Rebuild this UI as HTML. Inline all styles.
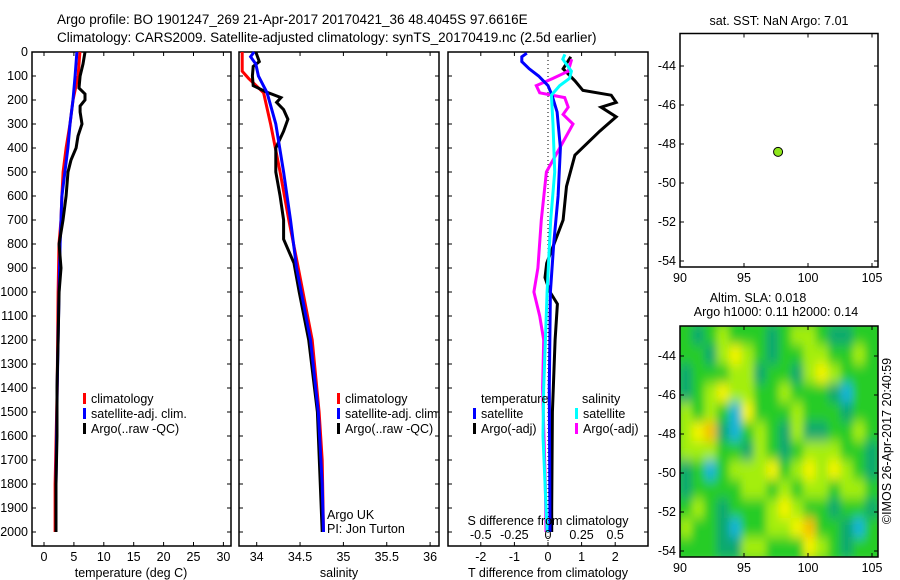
<!DOCTYPE html>
<html><head><meta charset="utf-8"><style>
body{margin:0;background:#fff;}
svg{display:block;font-family:"Liberation Sans",sans-serif;}
text{font-size:12.5px;fill:#000;}
</style></head><body>
<svg id="c" width="900" height="580" viewBox="0 0 900 580">
<text x="57" y="24" style="font-size:13.5px">Argo profile: BO 1901247_269 21-Apr-2017 20170421_36 48.4045S 97.6616E</text>
<text x="57" y="42" style="font-size:13.5px">Climatology: CARS2009. Satellite-adjusted climatology: synTS_20170419.nc (2.5d earlier)</text>
<g id="g"></g>
</svg>
<script>
// ---- data ----
const tDepth=[0,50,100,150,175,200,225,250,300,350,400,450,500,600,700,800,900,1000,1200,1400,1600,1800,2000];
const tArgo=[6.86,6.53,6.03,5.86,6.86,6.86,6.03,6.03,6.36,5.69,5.36,4.52,4.02,3.69,3.18,2.52,2.85,2.52,2.35,2.18,2.18,2.01,2.01];
const cDepth=[0,100,200,300,400,500,600,700,800,1000,1400,1800,2000];
const tClim=[6.0,5.7,4.85,4.35,3.7,3.2,3.0,2.85,2.5,2.35,2.2,1.85,1.85];
const tSat=[5.5,5.2,4.85,4.35,4.0,3.5,3.0,2.85,2.7,2.5,2.2,2.0,2.0];
const sClimDepth=[0,80,110,170,300,500,700,900,1200,1500,1700,2000];
const sClim=[33.833,33.833,33.906,34.08,34.16,34.27,34.37,34.48,34.64,34.72,34.755,34.77];
const sSatDepth=[0,20,50,100,170,300,500,700,900,1200,1500,1800,2000];
const sSat=[33.97,33.93,33.99,34.02,34.12,34.22,34.31,34.39,34.46,34.62,34.71,34.755,34.77];
const sArgoDepth=[0,40,60,100,140,165,190,210,240,280,330,400,500,600,700,780,880,1000,1200,1500,2000];
const sArgo=[33.99,34.03,33.96,33.95,33.96,34.10,34.28,34.23,34.31,34.36,34.31,34.22,34.22,34.27,34.31,34.31,34.43,34.49,34.60,34.70,34.755];
const dtSatDepth=[5,20,40,70,100,140,180,250,400,600,800,1000,1400,2000];
const dtSat=[-0.63,-0.78,-0.78,-0.56,-0.28,0,0.12,0.27,0.37,0.30,0.17,0.07,0.04,0.06];
const dtArgoDepth=[20,70,120,160,180,210,230,270,330,430,560,700,880,940,1000,1050,1200,1500,1900,2000];
const dtArgo=[0.68,0.45,0.8,1.04,1.88,2.03,1.58,2.03,1.54,0.8,0.55,0.45,-0.04,-0.09,0.06,0.28,0.21,0.13,0.11,0.11];
const dsSatDepth=[10,30,80,110,140,180,300,500,700,1000,1400,1600,2000];
const dsSat=[0.126,0.11,0.174,0.161,0.087,0.025,0.037,0.05,0.02,-0.007,-0.032,-0.037,-0.007];
const dsArgoDepth=[30,80,110,140,170,190,230,260,300,400,500,700,900,1000,1100,1200,1400,1800,2000];
const dsArgo=[0.176,0.15,0.037,-0.087,-0.062,0.124,0.15,0.112,0.186,0.087,-0.012,-0.05,-0.075,-0.105,-0.062,-0.032,-0.04,-0.02,-0.015];
const depthTicks=[0,100,200,300,400,500,600,700,800,900,1000,1100,1200,1300,1400,1500,1600,1700,1800,1900,2000];
const tTicks=[0,5,10,15,20,25,30];
const sTicks=[34,34.5,35,35.5,36];
const dtTicks=[-2,-1,0,1,2];
const dsTicks=[-0.5,-0.25,0,0.25,0.5];
const dsTickLabels=['-0.5','-0.25','0','0.25','0.5'];
const lonTicks=[90,95,100,105];
const latTicks=[-44,-46,-48,-50,-52,-54];
const argoLon=97.6616, argoLat=-48.4045;
const slaGrid=[
[2,1,2,3,2,2,2,1,2,3,3,2,1,1,2,2],
[2,2,1,3,4,3,2,1,2,2,3,3,2,2,3,2],
[1,2,2,2,3,3,1,2,2,1,3,4,3,2,2,2],
[1,2,3,4,3,3,2,2,3,2,2,2,1,0,2,2],
[3,2,3,2,0,4,2,2,2,3,2,2,2,1,2,2],
[3,4,5,1,0,2,3,2,1,3,1,1,2,2,3,2],
[3,3,3,2,2,1,3,2,1,2,3,3,3,2,2,1],
[1,2,0,2,3,3,3,4,2,3,4,3,4,3,2,1],
[1,2,2,2,2,3,3,2,3,2,3,3,2,3,3,2],
[2,3,2,1,2,2,2,3,4,3,2,2,1,2,2,1],
[3,2,2,1,0,2,2,3,3,4,5,2,2,1,0,2],
[2,2,2,1,1,3,3,2,2,2,4,3,2,1,2,2]];
const slaColors=['#18b4d8','#0ca870','#28cc28','#a4ee08','#f4f400','#f6c000'];

// ---- drawing ----
const NS='http://www.w3.org/2000/svg';
const G=document.getElementById('g');
function mk(tag,attrs,parent){const e=document.createElementNS(NS,tag);for(const k in attrs)e.setAttribute(k,attrs[k]);(parent||G).appendChild(e);return e;}
function txt(x,y,s,anchor,name,extra){const e=mk('text',Object.assign({x:x,y:y,'text-anchor':anchor||'start'},extra||{}));e.textContent=s;


return e;}
const Y0=52,YS=0.24,YB=546;
const yD=d=>Y0+d*YS;
function panel(x0,x1,name){const r=mk('rect',{x:x0,y:Y0,width:x1-x0,height:YB-Y0,fill:'none',stroke:'#000','stroke-width':1.5});


depthTicks.forEach(d=>{mk('line',{x1:x0,x2:x0+4,y1:yD(d),y2:yD(d),stroke:'#000'});mk('line',{x1:x1-4,x2:x1,y1:yD(d),y2:yD(d),stroke:'#000'});});}
function line(ds,vs,fx,color,name,w){const p=ds.map((d,i)=>fx(vs[i]).toFixed(1)+','+yD(d).toFixed(1)).join(' ');
const e=mk('polyline',{points:p,fill:'none',stroke:color,'stroke-width':w||3,'stroke-linejoin':'miter'});

}
function xticks(vals,labels,fx,x0,x1,name){vals.forEach((v,i)=>{const x=fx(v);mk('line',{x1:x,x2:x,y1:YB,y2:YB-4,stroke:'#000'});mk('line',{x1:x,x2:x,y1:Y0,y2:Y0+4,stroke:'#000'});txt(x,YB+15,labels[i],'middle',name+'-tick');});}
function legend(x,y,color,label,name){const r=mk('rect',{x:x,y:y-5,width:3,height:11,fill:color});


txt(x+8,y+5,label,'start',name);}

// panel 1
const fT=v=>44+v*5.98;
panel(32,231,'temperature-panel');
depthTicks.forEach(d=>txt(28,yD(d)+4,String(d),'end','depth-tick-label'));
line(cDepth,tClim,fT,'#f00','temp-climatology-line');
line(cDepth,tSat,fT,'#00f','temp-satellite-line');
line(tDepth,tArgo,fT,'#000','temp-argo-line');
xticks(tTicks,tTicks.map(String),fT,32,231,'temp-x');
txt(131,577,'temperature (deg C)','middle','temp-x-axis-title');
legend(83,398,'#f00','climatology','temp-legend-climatology');
legend(83,413,'#00f','satellite-adj. clim.','temp-legend-satellite');
legend(83,428,'#000','Argo(..raw -QC)','temp-legend-argo');

// panel 2
const fS=v=>256.7+(v-34)*86.7;
panel(239,439,'salinity-panel');
line(sClimDepth,sClim,fS,'#f00','sal-climatology-line');
line(sArgoDepth,sArgo,fS,'#000','sal-argo-line');
line(sSatDepth,sSat,fS,'#00f','sal-satellite-line');
xticks(sTicks,sTicks.map(String),fS,239,439,'sal-x');
txt(339,577,'salinity','middle','sal-x-axis-title');
legend(337,398,'#f00','climatology','sal-legend-climatology');
legend(337,413,'#00f','satellite-adj. clim.','sal-legend-satellite');
legend(337,428,'#000','Argo(..raw -QC)','sal-legend-argo');
txt(327,519,'Argo UK','start','argo-program-label');
txt(327,533,'PI: Jon Turton','start','pi-label');

// panel 3
const fDT=v=>548+v*33.6, fDS=v=>548+v*134.4;
panel(448,648,'difference-panel');
mk('line',{x1:548,x2:548,y1:Y0,y2:YB,stroke:'#000','stroke-dasharray':'1,3'});
line(dtArgoDepth,dtArgo,fDT,'#000','dT-argo-line');
line(dsArgoDepth,dsArgo,fDS,'#f0f','dS-argo-line');
line(dtSatDepth,dtSat,fDT,'#00f','dT-satellite-line');
line(dsSatDepth,dsSat,fDS,'#0ff','dS-satellite-line');
xticks(dtTicks,dtTicks.map(String),fDT,448,648,'dT-x');
dsTicks.forEach((v,i)=>txt(fDS(v),539,dsTickLabels[i],'middle','dS-x-tick'));
txt(548,525,'S difference from climatology','middle','dS-axis-title');
txt(548,577,'T difference from climatology','middle','dT-x-axis-title');
txt(481,403,'temperature','start','legend-temperature-header');
txt(582,403,'salinity','start','legend-salinity-header');
legend(473,413,'#00f','satellite','dT-legend-satellite');
legend(473,428,'#000','Argo(-adj)','dT-legend-argo');
legend(575,413,'#0ff','satellite','dS-legend-satellite');
legend(575,428,'#f0f','Argo(-adj)','dS-legend-argo');

// maps
const fLon=v=>680+(v-90)*12.8;
function mapAxes(top,bottom,latRef,name){
 const fLat=v=>latRef+(-44-v)*19.5;
 const r=mk('rect',{x:680,y:top,width:198,height:bottom-top,fill:'none',stroke:'#000','stroke-width':1.5});
 
 
 lonTicks.forEach(v=>{const x=fLon(v);mk('line',{x1:x,x2:x,y1:bottom,y2:bottom-4,stroke:'#000'});mk('line',{x1:x,x2:x,y1:top,y2:top+4,stroke:'#000'});txt(x,bottom+15,String(v),'middle','lon-tick-label');});
 latTicks.forEach(v=>{const y=fLat(v);mk('line',{x1:680,x2:684,y1:y,y2:y,stroke:'#000'});mk('line',{x1:874,x2:878,y1:y,y2:y,stroke:'#000'});txt(676,y+4,String(v),'end','lat-tick-label');});
 return fLat;}
txt(779,25,'sat. SST: NaN Argo: 7.01','middle','sst-map-title');
const fLat1=mapAxes(33.5,267,66,'sst-map');
const dot=mk('circle',{cx:fLon(argoLon),cy:fLat1(argoLat),r:4.5,fill:'#8ee61a',stroke:'#000','stroke-width':1});


txt(758,302,'Altim. SLA: 0.018','middle','sla-map-title');
txt(776,316,'Argo h1000: 0.11 h2000: 0.14','middle','sla-map-subtitle');
// heatmap
const defs=mk('defs',{});
const f=mk('filter',{id:'bl',x:'-5%',y:'-5%',width:'110%',height:'110%'},defs);
mk('feGaussianBlur',{stdDeviation:'4,6'},f);
const cp=mk('clipPath',{id:'cl'},defs);mk('rect',{x:680,y:326,width:198,height:231},cp);
const hg=mk('g',{'clip-path':'url(#cl)'});


const hb=mk('g',{filter:'url(#bl)'},hg);
const nr=slaGrid.length,nc=slaGrid[0].length,cw=198/nc,ch=231/nr;
mk('rect',{x:670,y:316,width:220,height:250,fill:slaColors[2]},hb);
slaGrid.forEach((row,i)=>row.forEach((v,j)=>{const c=mk('rect',{x:680+j*cw-0.5,y:326+i*ch-0.5,width:cw+1,height:ch+1,fill:slaColors[v]},hb);

}));
mapAxes(326,557,356,'sla-map');
txt(0,0,'©IMOS 26-Apr-2017 20:40:59','middle','timestamp-label',{transform:'translate(891,441) rotate(-90)'});
</script>
</body></html>
